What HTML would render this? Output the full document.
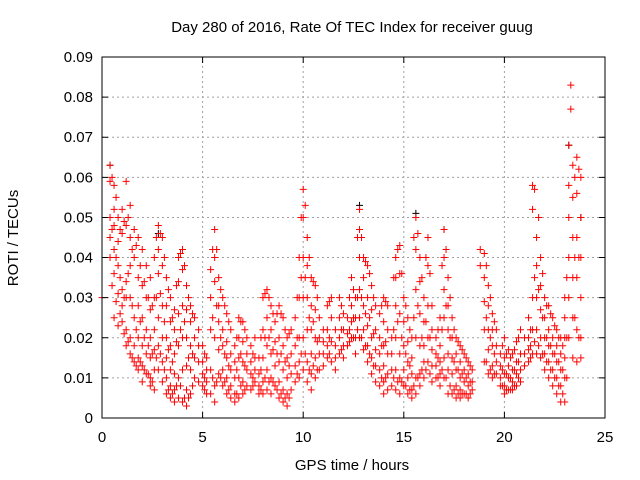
<!DOCTYPE html>
<html><head><meta charset="utf-8"><style>
body{margin:0;background:#fff;}
svg{display:block;font-family:"Liberation Sans",sans-serif;}
</style></head><body>
<svg id="chart" width="640" height="480" viewBox="0 0 640 480">
<text x="352" y="32" font-size="15" text-anchor="middle" fill="#000">Day 280 of 2016, Rate Of TEC Index for receiver guug</text>
<text x="352" y="470" font-size="15" text-anchor="middle" fill="#000">GPS time / hours</text>
<text x="18" y="238" font-size="15" text-anchor="middle" fill="#000" transform="rotate(-90 18 238)">ROTI / TECUs</text>
<g id="grid"></g>
<g id="marks"></g>
<rect x="102" y="57" width="503" height="361" fill="none" stroke="#000" stroke-width="1"/>
<g id="ticks"></g>
</svg>
<script>
const xTicks=[0,5,10,15,20,25];
const yTicks=[0,0.01,0.02,0.03,0.04,0.05,0.06,0.07,0.08,0.09];
const yTickLabels=["0","0.01","0.02","0.03","0.04","0.05","0.06","0.07","0.08","0.09"];
const times=[0,0.4,0.6,0.8,1.0,1.2,1.4,1.6,1.8,2.0,2.2,2.4,2.6,2.8,3.0,3.2,3.4,3.6,3.8,4.0,4.2,4.4,4.6,4.8,5.0,5.2,5.4,5.6,5.8,6.0,6.2,6.4,6.6,6.8,7.0,7.2,7.4,7.6,7.8,8.0,8.2,8.4,8.6,8.8,9.0,9.2,9.4,9.6,9.8,10.0,10.2,10.4,10.6,10.8,11.0,11.2,11.4,11.6,11.8,12.0,12.2,12.4,12.6,12.8,13.0,13.2,13.4,13.6,13.8,14.0,14.2,14.4,14.6,14.8,15.0,15.2,15.4,15.6,15.8,16.0,16.2,16.4,16.6,16.8,17.0,17.2,17.4,17.6,17.8,18.0,18.2,18.4,18.8,19.0,19.2,19.4,19.6,19.8,20.0,20.2,20.4,20.6,20.8,21.0,21.2,21.4,21.6,21.8,22.0,22.2,22.4,22.6,22.8,23.0,23.2,23.3,23.4,23.6,23.8];
const rotiValues=[[.03],[.063,.059,.05,.045,.04],[.058,.052,.048,.042,.036,.025],[.05,.044,.038,.031,.023],[.052,.046,.032,.028,.024],[.059,.048,.034,.03,.022,.018],[.053,.045,.038,.03,.02,.016],[.047,.04,.025,.018,.014],[.045,.035,.028,.02,.015,.012],[.042,.033,.025,.018,.013,.009],[.038,.03,.022,.016,.011],[.035,.027,.02,.015,.01,.008],[.04,.03,.022,.017,.012,.007],[.048,.042,.036,.025,.018,.012],[.045,.038,.028,.02,.014,.009],[.035,.028,.02,.015,.01,.006],[.03,.024,.018,.012,.008,.005],[.027,.022,.016,.011,.007,.004],[.04,.034,.026,.018,.01,.005],[.042,.037,.028,.02,.012,.004],[.033,.027,.02,.013,.007,.003],[.028,.024,.018,.012,.006],[.025,.02,.015,.01],[.022,.018,.014,.009],[.018,.014,.011,.008],[.015,.012,.009,.006],[.037,.03,.022,.012,.006],[.047,.04,.034,.02,.008,.004],[.035,.028,.024,.017,.011],[.03,.022,.018,.012,.008],[.026,.019,.015,.01,.006],[.022,.016,.012,.008,.005],[.018,.014,.01,.006,.004],[.025,.02,.015,.01,.005],[.024,.019,.014,.009,.006],[.02,.016,.012,.008],[.018,.014,.011,.007],[.02,.015,.012,.009],[.015,.011,.008,.006],[.03,.022,.015,.009,.006],[.032,.025,.018,.012,.007],[.028,.022,.016,.01,.006],[.024,.019,.013,.008],[.028,.02,.014,.009,.005],[.025,.018,.012,.007,.004],[.02,.015,.01,.006,.003],[.022,.016,.011,.007],[.025,.018,.013,.009],[.04,.03,.02,.014,.01],[.057,.05,.04,.03,.02,.012],[.045,.038,.03,.022,.014,.009],[.035,.028,.022,.016,.011,.007],[.033,.027,.02,.015,.01],[.025,.02,.016,.012],[.022,.019,.016,.013],[.028,.022,.018,.015],[.03,.025,.019,.014],[.022,.018,.015,.012],[.03,.025,.02,.016],[.026,.022,.018,.015],[.025,.021,.018],[.035,.028,.024,.02],[.03,.025,.02,.016],[.052,.047,.04,.032,.025,.02],[.04,.035,.028,.022,.017],[.038,.03,.023,.018,.014],[.033,.027,.02,.015,.011],[.028,.022,.017,.013,.009],[.026,.02,.016,.012,.008],[.03,.024,.018,.013,.009,.006],[.028,.022,.016,.011,.007],[.02,.016,.012,.008],[.04,.035,.028,.02,.012,.007],[.043,.036,.026,.016,.01,.006],[.03,.024,.018,.012,.008],[.025,.019,.014,.01,.006],[.02,.015,.011,.007,.005],[.05,.042,.032,.02,.01,.006],[.04,.034,.026,.018,.011,.008],[.03,.024,.018,.014,.01],[.045,.038,.028,.02,.014],[.028,.022,.017,.013,.009],[.02,.016,.013,.01],[.025,.018,.014,.011,.008],[.047,.04,.032,.025,.015,.01],[.035,.028,.022,.016,.012,.006],[.025,.02,.015,.011,.006],[.02,.016,.012,.008,.005],[.018,.014,.01,.007,.005],[.016,.012,.009,.006],[.014,.011,.008,.005],[.012,.009,.007],[.042,.038],[.041,.035,.029,.022,.014],[.033,.028,.022,.017,.011],[.026,.022,.018,.013,.01],[.022,.018,.014,.011],[.016,.013,.01,.008],[.02,.015,.011,.008,.006],[.017,.013,.01,.007],[.016,.012,.009,.007],[.019,.014,.011,.008],[.022,.016,.012,.009],[.02,.016,.013],[.025,.02,.017,.014],[.058,.052,.03,.022,.016],[.045,.038,.03,.022,.016],[.04,.033,.027,.02,.015],[.03,.025,.02,.016,.012],[.028,.022,.018,.014,.01],[.025,.02,.016,.012,.008],[.022,.018,.014,.01,.006],[.02,.016,.012,.008,.004],[.03,.025,.02,.015,.01,.004],[.068,.058,.05,.04,.03,.02],[.083,.077],[.063,.055,.045,.035,.025,.015],[.065,.056,.045,.035,.022,.014],[.06,.05,.04,.03,.02,.015]];
const extraTimes=[0.5,0.7,0.9,1.1,1.3,1.5,1.7,1.9,2.1,2.3,2.5,2.7,2.9,3.1,3.3,3.5,3.7,3.9,4.1,4.3,4.5,5.1,5.5,5.7,5.9,6.1,6.3,6.7,6.9,7.1,7.5,7.9,8.1,8.3,8.5,8.7,8.9,9.1,9.3,9.7,9.9,10.1,10.3,10.5,10.7,11.3,11.9,12.3,12.5,12.7,12.9,13.1,13.3,13.5,13.9,14.1,14.5,14.7,14.9,15.1,15.3,15.5,15.7,15.9,16.1,16.3,16.7,16.9,17.1,17.3,17.5,17.7,17.9,18.1,18.3,19.1,19.3,19.5,19.9,20.1,20.3,20.5,20.7,21.3,21.5,21.7,21.9,22.1,22.3,22.5,22.7,22.9,23.1,23.5,23.7];
const extraValues=[[.06,.047,.033],[.055,.04,.029],[.047,.035,.026],[.049,.03,.021],[.05,.036,.019],[.042,.028,.015],[.043,.022,.013],[.038,.024,.014],[.034,.02,.012],[.03,.018,.011],[.028,.016,.009],[.045,.03,.015],[.046,.031,.016],[.04,.024,.012],[.032,.017,.007],[.025,.014,.006],[.033,.019,.008],[.041,.022,.008],[.038,.024,.005],[.03,.015,.005],[.026,.016,.008],[.016,.01,.007],[.042,.025,.01],[.042,.028,.009],[.032,.02,.01],[.028,.016,.009],[.024,.013,.007],[.02,.012,.006],[.024,.016,.008],[.022,.013,.007],[.016,.01,.008],[.02,.012,.007],[.031,.02,.01],[.03,.02,.009],[.026,.017,.009],[.026,.016,.007],[.026,.016,.006],[.022,.014,.005],[.021,.013,.005],[.03,.02,.011],[.05,.035,.016],[.053,.035,.016],[.04,.025,.012],[.034,.024,.013],[.03,.019,.012],[.029,.02,.016],[.028,.022,.017],[.03,.022,.019],[.032,.025,.02],[.045,.03,.022],[.045,.03,.02],[.039,.026,.018],[.036,.025,.016],[.03,.021,.013],[.028,.018,.01],[.029,.019,.01],[.035,.022,.01],[.042,.024,.009],[.036,.02,.009],[.028,.016,.008],[.022,.013,.007],[.045,.025,.008],[.046,.028,.01],[.035,.02,.012],[.04,.024,.012],[.036,.02,.011],[.022,.015,.01],[.038,.022,.012],[.042,.028,.01],[.03,.02,.008],[.022,.014,.007],[.019,.012,.006],[.017,.011,.006],[.015,.01,.006],[.013,.009,.006],[.038,.025,.014],[.03,.02,.012],[.024,.016,.011],[.018,.012,.008],[.016,.011,.007],[.015,.01,.007],[.017,.012,.008],[.02,.014,.01],[.022,.018,.015],[.057,.035,.019],[.05,.032,.018],[.036,.025,.016],[.028,.02,.014],[.026,.018,.012],[.023,.016,.01],[.02,.014,.008],[.018,.012,.006],[.035,.02,.01],[.06,.04,.025],[.062,.04,.02]];
const blackTimes=[0.4,2.8,12.8,15.6,17.0,23.2,23.8];
const blackValues=[0.063,0.046,0.053,0.051,0.047,0.068,0.05];

const X0=102,X1=605,Y0=418,Y1=57;
const xs=v=>X0+(v-0)/(25-0)*(X1-X0);
const ys=v=>Y0-(v-0)/(0.09-0)*(Y0-Y1);
const NS="http://www.w3.org/2000/svg";
const grid=document.getElementById('grid'),ticks=document.getElementById('ticks'),marks=document.getElementById('marks');
function mk(tag,attrs,parent){const e=document.createElementNS(NS,tag);for(const k in attrs)e.setAttribute(k,attrs[k]);parent.appendChild(e);return e;}
xTicks.forEach(t=>{const x=xs(t);
 if(t>0&&t<25){const g=mk('line',{x1:x,x2:x,y1:Y0,y2:Y1,stroke:'#a0a0a0','stroke-dasharray':'2,3','stroke-width':1},grid);
 }
 const tk=mk('path',{d:`M${x},${Y0}v-6M${x},${Y1}v6`,stroke:'#000'},ticks);
 
 const l=mk('text',{x:x,y:Y0+24,'font-size':15,'text-anchor':'middle'},ticks);l.textContent=t;
 });
yTicks.forEach((t,i)=>{const y=ys(t);
 if(i>0&&i<yTicks.length-1){const g=mk('line',{x1:X0,x2:X1,y1:y,y2:y,stroke:'#a0a0a0','stroke-dasharray':'2,3','stroke-width':1},grid);
 }
 const tk=mk('path',{d:`M${X0},${y}h6M${X1},${y}h-6`,stroke:'#000'},ticks);
 
 const l=mk('text',{x:X0-9,y:y+5,'font-size':15,'text-anchor':'end'},ticks);l.textContent=yTickLabels[i];
 });
function plus(t,v,col){const x=xs(t),y=ys(v);
 const p=mk('path',{d:`M${x-3.5},${y}h7M${x},${y-3.5}v7`,stroke:col,'stroke-width':1},marks);
 }
blackTimes.forEach((t,i)=>plus(t,blackValues[i],'#000'));
times.forEach((t,i)=>rotiValues[i].forEach(v=>plus(t,v,'#ff0000')));
extraTimes.forEach((t,i)=>extraValues[i].forEach(v=>plus(t,v,'#ff0000')));
</script>
</body></html>
